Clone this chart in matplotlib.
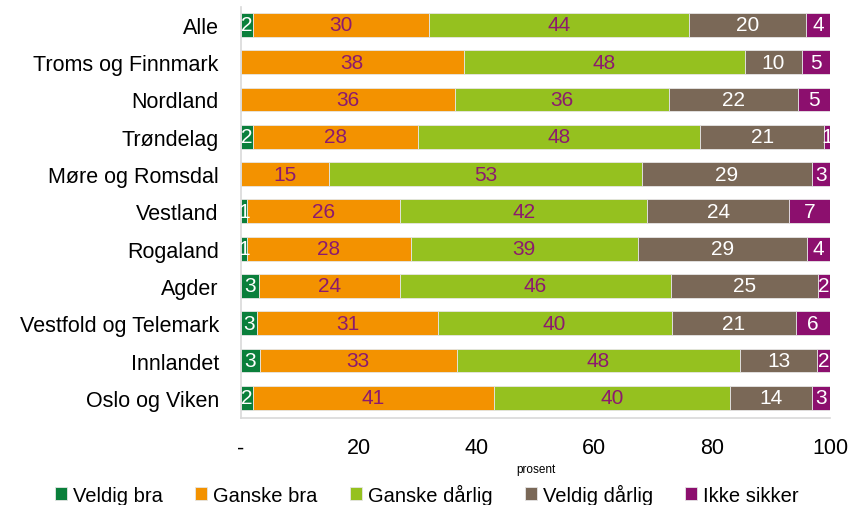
import numpy as np
import matplotlib.pyplot as plt

plt.rcParams['font.family'] = ['Liberation Sans Narrow', 'Liberation Sans', 'DejaVu Sans']

regions = ["Alle", "Troms og Finnmark", "Nordland", "Trøndelag", "Møre og Romsdal",
           "Vestland", "Rogaland", "Agder", "Vestfold og Telemark", "Innlandet",
           "Oslo og Viken"]
series = ["Veldig bra", "Ganske bra", "Ganske dårlig", "Veldig dårlig", "Ikke sikker"]

veldig_bra = [2, 0, 0, 2, 0, 1, 1.0, 3, 2.8, 3.2, 2]
ganske_bra = [30, 37.8, 36.4, 28, 15, 26, 27.8, 24, 30.6, 33.4, 41]
ganske_darlig = [44, 47.7, 36.3, 48, 53, 42, 38.6, 46, 39.7, 48.2, 40]
veldig_darlig = [20, 9.7, 21.9, 21, 29, 24, 28.7, 25, 21.1, 13.0, 14]
ikke_sikker = [4, 4.8, 5.4, 1, 3, 7, 3.9, 2, 5.8, 2.2, 3]

colors = ["#0a7f3b", "#f39200", "#95c11f", "#7a6857", "#8c0f6e"]
label_colors = ["white", "#8c1a6e", "#8c1a6e", "white", "white"]

data = [veldig_bra, ganske_bra, ganske_darlig, veldig_darlig, ikke_sikker]

fig = plt.figure(figsize=(8.54, 5.06), dpi=100)
ax = fig.add_axes([241 / 854, 1 - 419 / 506, (830 - 241) / 854, (419 - 8) / 506])

y = np.arange(len(regions))
left = np.zeros(len(regions))
for vals, name, col, lcol in zip(data, series, colors, label_colors):
    vals = np.array(vals, dtype=float)
    ax.barh(y, vals, left=left, height=0.64, color=col, edgecolor="#e6e6e6",
            linewidth=0.6, label=name)
    for yi, (l, v) in enumerate(zip(left, vals)):
        if v > 0:
            ax.text(l + v / 2, yi, f"{round(v):d}", ha="center", va="center",
                    color=lcol, fontsize=15, clip_on=True)
    left += vals

ax.set_xlim(0, 100)
ax.set_ylim(10.54, -0.48)
ax.set_yticks(y)
ax.set_yticklabels(regions, fontsize=15.5)
ax.set_xticks([0, 20, 40, 60, 80, 100])
ax.set_xticklabels(["-", "20", "40", "60", "80", "100"], fontsize=15.5)
ax.tick_params(axis="y", length=0, pad=16)
ax.tick_params(axis="x", length=0, pad=14)
ax.set_xlabel("prosent", fontsize=8.5, labelpad=3)

for s in ["top", "right"]:
    ax.spines[s].set_visible(False)
ax.spines["left"].set_color("#d9d9d9")
ax.spines["bottom"].set_color("#d9d9d9")
ax.spines["left"].set_linewidth(1.2)
ax.spines["bottom"].set_linewidth(1.2)

fig.legend(loc="lower center", bbox_to_anchor=(0.5, -0.035), ncol=5, frameon=False,
           fontsize=14.5, handlelength=0.6, handleheight=0.6, handletextpad=0.3,
           columnspacing=1.6)

fig.savefig("out.png", dpi=100)
